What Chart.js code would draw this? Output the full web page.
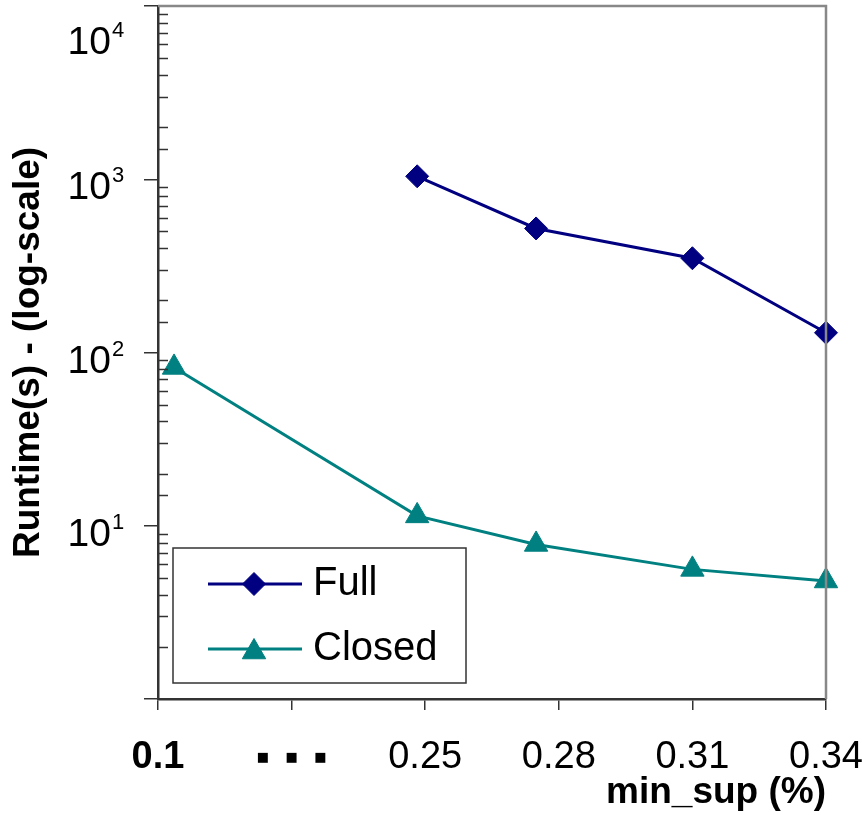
<!DOCTYPE html>
<html lang="en">
<head>
<meta charset="UTF-8" />
<title>Runtime vs min_sup</title>
<script src="https://cdn.jsdelivr.net/npm/chart.js"></script>
<style>
    body {
        margin: 0;
        background: #ffffff;
    }

    .chart-wrap {
        width: 862px;
        height: 815px;
    }
</style>
</head>
<body>
<div class="chart-wrap">
    <canvas id="runtimeChart"></canvas>
</div>

<script>
    // ===== Data =====
    const xTickLabels = ['0.1', '\u25A0    \u25A0    \u25A0', '0.25', '0.28', '0.31', '0.34'];
    const seriesNames = ['Full', 'Closed'];
    const fullX = [1.94, 2.83, 4.0, 5.0];
    const fullRuntime = [1040, 520, 350, 130];
    const closedX = [0.12, 1.94, 2.83, 4.0, 5.0];
    const closedRuntime = [82, 11.4, 7.8, 5.6, 4.8];

    const FONT = "'Liberation Sans', Arial, sans-serif";
    const NAVY = '#000080';
    const TEAL = '#008080';

    function isMajor(v) {
        const l = Math.log10(v);
        return Math.abs(l - Math.round(l)) < 1e-9;
    }

    function toPoints(xs, ys) {
        return xs.map((x, i) => ({ x: x, y: ys[i] }));
    }

    function noPad(s) {
        s.paddingLeft = 0;
        s.paddingRight = 0;
        s.paddingTop = 0;
        s.paddingBottom = 0;
    }

    // draws the frame, minor ticks, power-of-ten labels and the legend box
    const decorPlugin = {
        id: 'decor',
        afterDraw(chart) {
            const ctx = chart.ctx;
            const area = chart.chartArea;
            const yScale = chart.scales.y;
            ctx.save();

            // top and right frame (grey)
            ctx.strokeStyle = '#888888';
            ctx.lineWidth = 2.5;
            ctx.beginPath();
            ctx.moveTo(area.left, area.top);
            ctx.lineTo(area.right, area.top);
            ctx.lineTo(area.right, area.bottom);
            ctx.stroke();

            // minor ticks inside the plot
            ctx.strokeStyle = '#333333';
            ctx.lineWidth = 1.5;
            yScale.ticks.forEach(t => {
                if (isMajor(t.value)) return;
                const py = Math.round(yScale.getPixelForValue(t.value)) + 0.5;
                ctx.beginPath();
                ctx.moveTo(area.left, py);
                ctx.lineTo(area.left + 10, py);
                ctx.stroke();
            });

            // 10^n labels
            ctx.fillStyle = '#000000';
            ctx.textBaseline = 'alphabetic';
            yScale.ticks.forEach(t => {
                if (!isMajor(t.value) || t.value <= 1) return;
                const exp = Math.round(Math.log10(t.value));
                const py = Math.max(yScale.getPixelForValue(t.value), area.top + 28);
                ctx.font = '39px ' + FONT;
                ctx.textAlign = 'right';
                ctx.fillText('10', 111, py + 20);
                ctx.font = '22px ' + FONT;
                ctx.textAlign = 'left';
                ctx.fillText(String(exp), 112, py + 3);
            });

            // legend
            const box = { x: area.left + 15, y: 548, w: 293, h: 135 };
            ctx.fillStyle = '#ffffff';
            ctx.fillRect(box.x, box.y, box.w, box.h);
            ctx.strokeStyle = '#333333';
            ctx.lineWidth = 1.5;
            ctx.strokeRect(box.x, box.y, box.w, box.h);

            chart.data.datasets.forEach((ds, i) => {
                const ly = box.y + 36 + i * 65;
                ctx.strokeStyle = ds.borderColor;
                ctx.lineWidth = ds.borderWidth;
                ctx.beginPath();
                ctx.moveTo(box.x + 35, ly);
                ctx.lineTo(box.x + 129, ly);
                ctx.stroke();
                ctx.fillStyle = ds.pointBackgroundColor;
                ctx.strokeStyle = ds.pointBorderColor;
                ctx.lineWidth = 1;
                Chart.helpers.drawPoint(ctx, {
                    pointStyle: ds.pointStyle,
                    radius: ds.pointRadius,
                    rotation: 0,
                    borderWidth: 1
                }, box.x + 81, ly + (ds.pointStyle === 'triangle' ? 3 : 0));
                ctx.fillStyle = '#000000';
                ctx.font = '40px ' + FONT;
                ctx.textAlign = 'left';
                ctx.textBaseline = 'middle';
                ctx.fillText(ds.label, box.x + 140, ly);
            });

            ctx.restore();
        }
    };

    const runtimeChart = new Chart(document.getElementById('runtimeChart'), {
        type: 'line',
        data: {
            datasets: [{
                label: seriesNames[0],
                data: toPoints(fullX, fullRuntime),
                borderColor: NAVY,
                backgroundColor: NAVY,
                pointBackgroundColor: NAVY,
                pointBorderColor: NAVY,
                borderWidth: 3,
                pointStyle: 'rectRot',
                pointRadius: 11.5,
                pointBorderWidth: 1,
                tension: 0,
                clip: false
            }, {
                label: seriesNames[1],
                data: toPoints(closedX, closedRuntime),
                borderColor: TEAL,
                backgroundColor: TEAL,
                pointBackgroundColor: TEAL,
                pointBorderColor: TEAL,
                borderWidth: 3,
                pointStyle: 'triangle',
                pointRadius: 13.5,
                pointBorderWidth: 1,
                tension: 0,
                clip: false
            }]
        },
        options: {
            responsive: true,
            maintainAspectRatio: false,
            animation: false,
            layout: {
                autoPadding: false,
                padding: { top: 6, right: 36, left: 0, bottom: 0 }
            },
            plugins: {
                legend: { display: false },
                tooltip: { enabled: false }
            },
            scales: {
                x: {
                    type: 'linear',
                    min: 0,
                    max: 5,
                    afterFit: s => { s.height = 116; noPad(s); },
                    ticks: {
                        stepSize: 1,
                        color: '#000000',
                        padding: 24,
                        maxRotation: 0,
                        autoSkip: false,
                        callback: v => xTickLabels[v],
                        font: c => {
                            if (c.index === 1) return { family: 'DejaVu Sans', size: 13, lineHeight: '47px' };
                            return { family: FONT, size: 38, lineHeight: '47px', weight: c.index === 0 ? 'bold' : 'normal' };
                        }
                    },
                    grid: {
                        drawOnChartArea: false,
                        drawTicks: true,
                        tickLength: 11,
                        color: '#333333',
                        lineWidth: 1.5
                    },
                    border: { display: true, color: '#333333', width: 2.5 },
                    title: {
                        display: true,
                        text: 'min_sup (%)',
                        align: 'end',
                        color: '#000000',
                        padding: { top: 0, bottom: 0 },
                        font: { family: FONT, size: 37, weight: 'bold' }
                    }
                },
                y: {
                    type: 'logarithmic',
                    min: 1,
                    max: 10000,
                    afterFit: s => { s.width = 158; noPad(s); },
                    ticks: { display: false },
                    grid: {
                        drawOnChartArea: false,
                        drawTicks: true,
                        tickLength: 14,
                        lineWidth: 1.5,
                        color: c => (c.tick && isMajor(c.tick.value)) ? '#333333' : 'rgba(0,0,0,0)'
                    },
                    border: { display: true, color: '#333333', width: 2.5 },
                    title: {
                        display: true,
                        text: 'Runtime(s) - (log-scale)',
                        color: '#000000',
                        padding: { top: 7, bottom: 0 },
                        font: { family: FONT, size: 37, weight: 'bold' }
                    }
                }
            }
        },
        plugins: [decorPlugin]
    });
</script>
</body>
</html>
